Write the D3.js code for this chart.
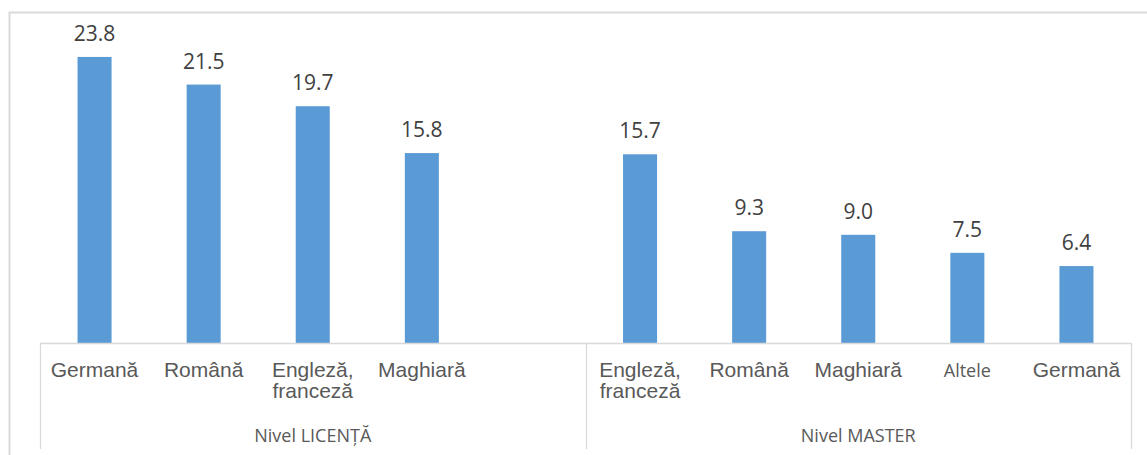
<!DOCTYPE html>
<html>
<head>
<meta charset="utf-8">
<script src="https://cdn.jsdelivr.net/npm/d3@7"></script>
<style>
	body{margin:0;background:#fff;}
	svg{display:block;}
	.valLabel{font-family:"Open Sans",sans-serif;font-size:21px;fill:#404040;}
	.catLabel{font-family:"Liberation Sans",Arial,sans-serif;font-size:21px;fill:#595959;}
	.grpLabel{font-family:"Open Sans",sans-serif;font-size:18px;fill:#595959;}
</style>
</head>
<body>
<svg id="chart" width="1147" height="455"></svg>
<script>
var groups=["Nivel LICENȚĂ","Nivel MASTER"],
	licentaLabels=["Germană","Română","Engleză, franceză","Maghiară",""],
	licentaValues=[23.8,21.5,19.7,15.8,null],
	masterLabels=["Engleză, franceză","Română","Maghiară","Altele","Germană"],
	masterValues=[15.7,9.3,9.0,7.5,6.4];

var W=1147,H=455,
	LEFT=40,RIGHT=1131,BASE=343,
	BORDER="#d9d9d9",BAR="#5b9bd5";

//flatten both levels into one list of slots
var slots=[];
licentaLabels.forEach(function(l,i){slots.push({key:"L"+i,group:groups[0],label:l,value:licentaValues[i]});});
masterLabels.forEach(function(l,i){slots.push({key:"M"+i,group:groups[1],label:l,value:masterValues[i]});});

var svg=d3.select("#chart");

var x=d3.scaleBand()
	.domain(slots.map(function(d){return d.key;}))
	.range([LEFT,RIGHT])
	.paddingInner(0.688)
	.paddingOuter(0.344);

var y=d3.scaleLinear()
	.domain([0,25])
	.range([BASE,BASE-25*12.02]);

//outer chart border (cut by the window on the right and bottom)
svg.append("rect")
	.attr("x",9.5)
	.attr("y",12.5)
	.attr("width",W+20)
	.attr("height",H+20)
	.attr("fill","none")
	.attr("stroke",BORDER)
	.attr("stroke-width",2);

var bars=svg.append("g").attr("class","bars");

bars.selectAll("rect")
	.data(slots.filter(function(d){return d.value!=null;}))
	.enter()
	.append("rect")
	.attr("x",function(d){return x(d.key);})
	.attr("y",function(d){return y(d.value);})
	.attr("width",x.bandwidth())
	.attr("height",function(d){return BASE-y(d.value);})
	.attr("fill",BAR);

bars.selectAll("text")
	.data(slots.filter(function(d){return d.value!=null;}))
	.enter()
	.append("text")
	.attr("class","valLabel")
	.attr("x",function(d){return x(d.key)+x.bandwidth()/2;})
	.attr("y",function(d){return y(d.value)-16;})
	.attr("text-anchor","middle")
	.text(function(d){return d.value.toFixed(1);});

//multi level category axis
var axis=svg.append("g").attr("class","axis");

axis.append("line")
	.attr("x1",LEFT).attr("x2",RIGHT)
	.attr("y1",BASE+0.5).attr("y2",BASE+0.5)
	.attr("stroke",BORDER)
	.attr("stroke-width",1.3);

var step=x.step(),
	bounds=[LEFT];
groups.forEach(function(g){
	var n=slots.filter(function(d){return d.group==g;}).length;
	bounds.push(bounds[bounds.length-1]+n*step);
});

axis.selectAll("line.sep")
	.data(bounds)
	.enter()
	.append("line")
	.attr("class","sep")
	.attr("x1",function(d){return Math.round(d)+0.5;})
	.attr("x2",function(d){return Math.round(d)+0.5;})
	.attr("y1",BASE)
	.attr("y2",449)
	.attr("stroke",BORDER)
	.attr("stroke-width",1.3);

var cats=axis.selectAll("text.catLabel")
	.data(slots.filter(function(d){return d.label!="";}))
	.enter()
	.append("text")
	.attr("class","catLabel")
	.attr("text-anchor","middle")
	.attr("x",function(d){return x(d.key)+x.bandwidth()/2;})
	.attr("y",377);

cats.each(function(d){
	var t=d3.select(this),
		words=d.label.split(" ");
	if(d.label=="Altele"){
		t.style("font-family","'Open Sans',sans-serif").style("font-size","18px");
	}
	words.forEach(function(w,i){
		t.append("tspan")
			.attr("x",x(d.key)+x.bandwidth()/2)
			.attr("dy",i==0?0:21)
			.text(w);
	});
});

axis.selectAll("text.grpLabel")
	.data(groups)
	.enter()
	.append("text")
	.attr("class","grpLabel")
	.attr("text-anchor","middle")
	.attr("x",function(d,i){return (bounds[i]+bounds[i+1])/2;})
	.attr("y",442)
	.text(function(d){return d;});
</script>
</body>
</html>
